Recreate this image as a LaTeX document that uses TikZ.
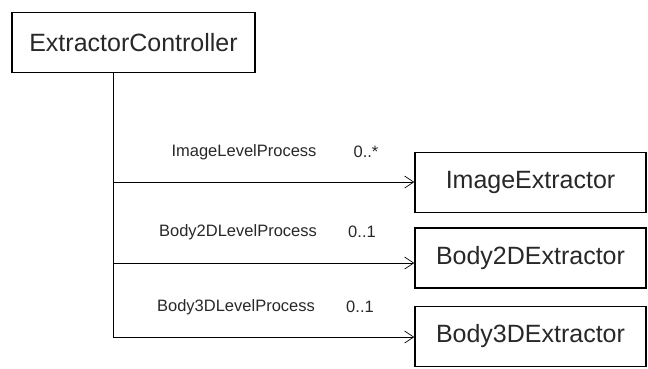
\documentclass[tikz,border=0pt]{standalone}
\usepackage{fontspec}
\setmainfont{Liberation Sans}
\usepackage{tikz}
\usetikzlibrary{positioning,arrows.meta}
\definecolor{labelgray}{RGB}{40,40,40}

\begin{document}
\begin{tikzpicture}[x=1pt,y=-1pt,
    classbox/.style={rectangle,draw,line width=1.5pt,minimum height=60pt,inner sep=0pt,font=\fontsize{25}{28}\selectfont,text=labelgray},
    assoc/.style={line width=0.7pt,-{Straight Barb[length=9pt,width=12pt,line width=0.7pt]}},
    rolename/.style={font=\fontsize{16.5}{19}\selectfont,text=labelgray,inner sep=0pt}]
    \useasboundingbox (0,0) rectangle (648,368);

    \node[classbox,minimum width=243pt] (ctrl) at (133.5,42.5) {ExtractorController};
    \node[classbox,minimum width=231pt] (img) at (530.5,182.5) {ImageExtractor};
    \node[classbox,minimum width=231pt] (b2d) at (530.5,258) {Body2DExtractor};
    \node[classbox,minimum width=231pt] (b3d) at (530.5,336.5) {Body3DExtractor};

    % trunk out of the controller
    \coordinate (top) at (113,72.5);
    \coordinate (j1) at (113,182);
    \coordinate (j2) at (113,263);
    \coordinate (j3) at (113,337);
    \draw[line width=0.7pt] (top) -- (j3);

    \draw[assoc] (j1) -- (j1 -| img.west);
    \draw[assoc] (j2) -- (j2 -| b2d.west);
    \draw[assoc] (j3) -- (j3 -| b3d.west);

    \node[rolename] (r1) at (244,152) {ImageLevelProcess};
    \node[rolename] (m1) at (366,152) {0..*};
    \node[rolename] (r2) at (238,232) {Body2DLevelProcess};
    \node[rolename] (m2) at (362,232) {0..1};
    \node[rolename] (r3) at (236,307) {Body3DLevelProcess};
    \node[rolename] (m3) at (360,307) {0..1};

\end{tikzpicture}
\end{document}
